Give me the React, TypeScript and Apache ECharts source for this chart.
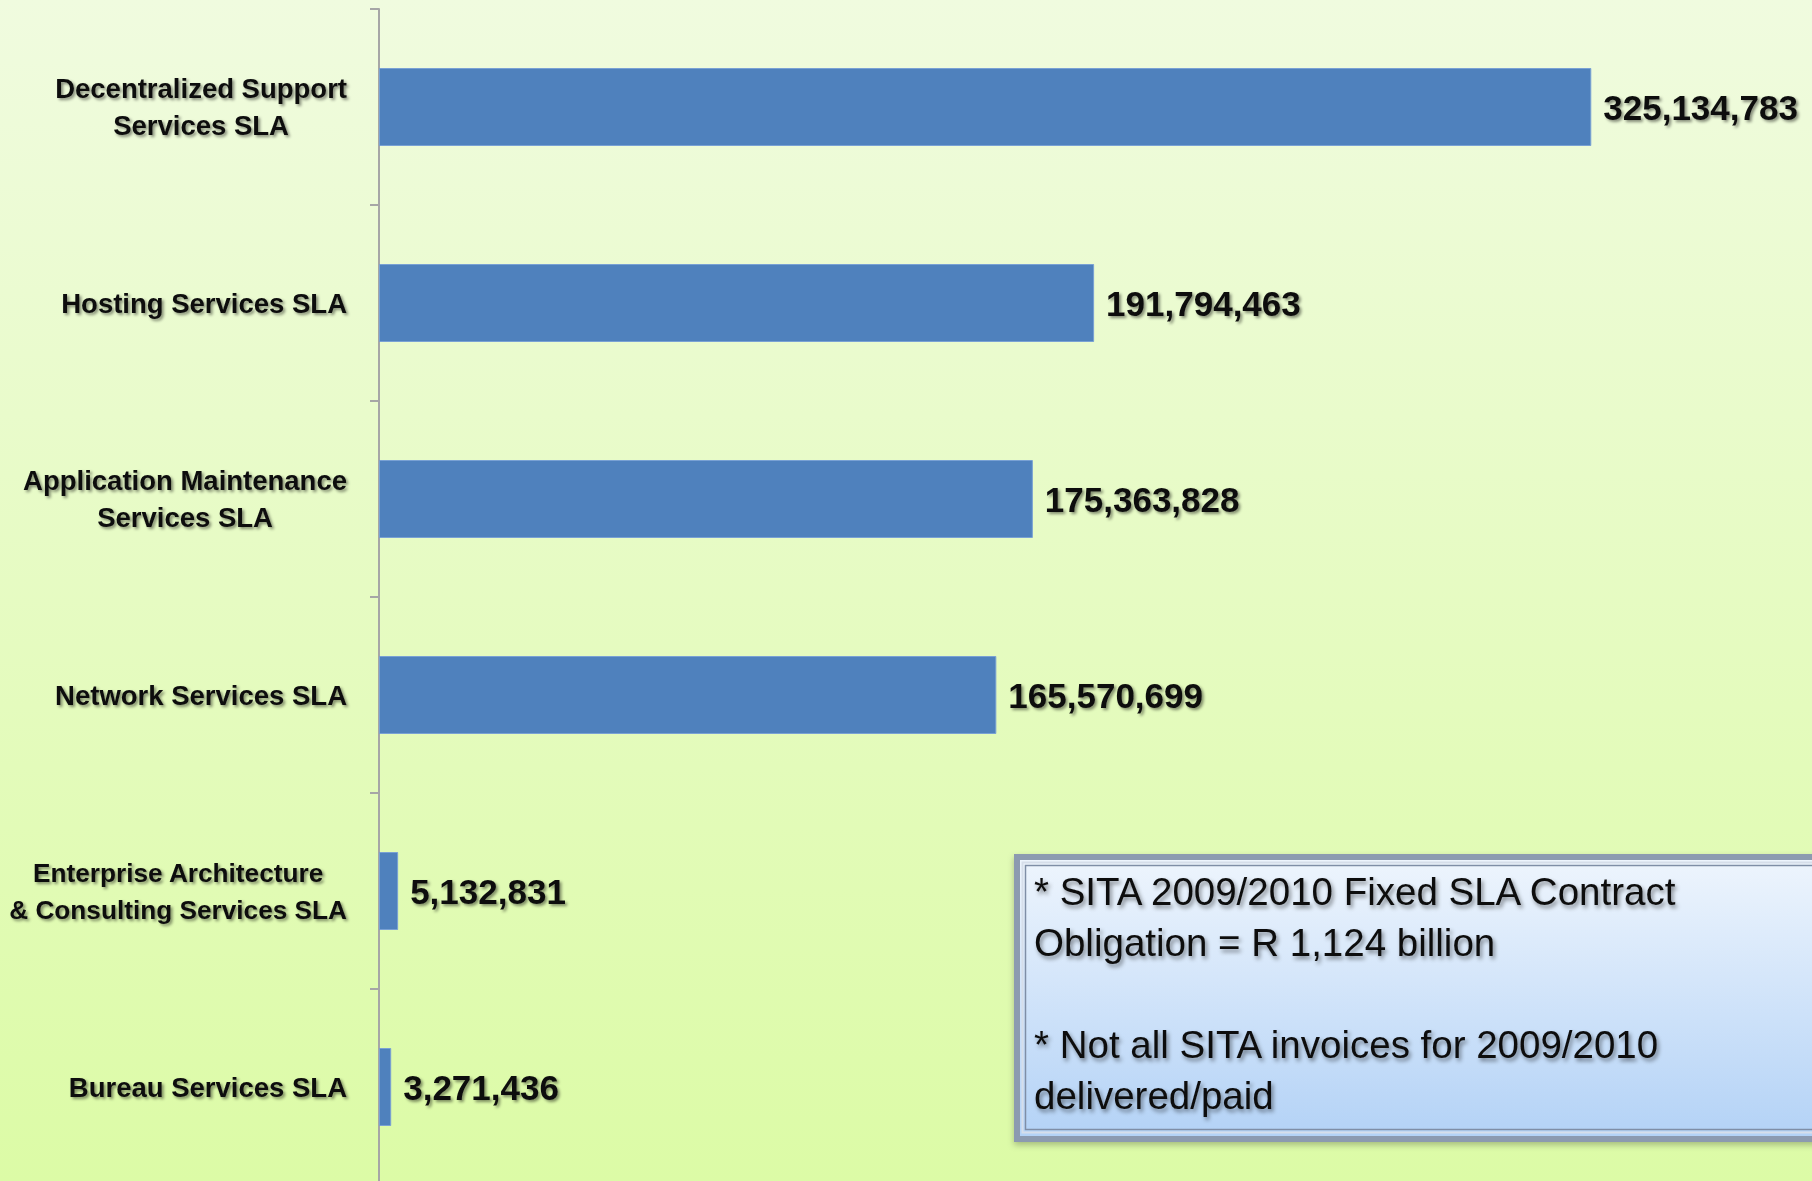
import React, { useEffect, useRef } from "react";
import * as echarts from "echarts";

const categories = [
  "Decentralized Support\nServices SLA",
  "Hosting Services SLA",
  "Application Maintenance\nServices SLA",
  "Network Services SLA",
  "Enterprise Architecture\n& Consulting Services SLA",
  "Bureau Services SLA",
];
const values = [325134783, 191794463, 175363828, 165570699, 5132831, 3271436];
const noteLines = [
  "* SITA 2009/2010 Fixed SLA Contract",
  "Obligation = R 1,124 billion",
  "",
  "* Not all SITA invoices for 2009/2010",
  "delivered/paid",
];

const LABEL_FONT = '"Liberation Sans", Arial, sans-serif';
const LABEL_SIZE = 27.5;
const LABEL_MAX_W = 338;

function measure(text: string, size: number): number {
  const c = document.createElement("canvas").getContext("2d");
  if (!c) return text.length * size * 0.55;
  c.font = `bold ${size}px ${LABEL_FONT}`;
  return c.measureText(text).width;
}

export default function App() {
  const ref = useRef<HTMLDivElement>(null);
  useEffect(() => {
    if (!ref.current) return;
    const chart = echarts.init(ref.current, undefined, { renderer: "svg" });
    const shadow = {
      textShadowColor: "rgba(0,0,0,0.45)",
      textShadowBlur: 3,
      textShadowOffsetX: 2,
      textShadowOffsetY: 2,
    };
    const rich: Record<string, any> = {};
    categories.forEach((cat, i) => {
      const raw = Math.max(...cat.split("\n").map((l) => measure(l, LABEL_SIZE)));
      const size = raw > LABEL_MAX_W ? (LABEL_SIZE * LABEL_MAX_W) / raw : LABEL_SIZE;
      const w = Math.max(...cat.split("\n").map((l) => measure(l, size))) + 2;
      rich["c" + i] = {
        width: w,
        align: "center",
        fontFamily: LABEL_FONT,
        fontWeight: "bold",
        fontSize: size,
        lineHeight: 37,
        color: "#111",
        ...shadow,
      };
    });
    chart.setOption({
      animation: false,
      backgroundColor: new echarts.graphic.LinearGradient(0, 0, 0, 1, [
        { offset: 0, color: "#f0fbdf" },
        { offset: 1, color: "#dcfba6" },
      ]),
      grid: {
        left: 379,
        top: 9,
        right: 128,
        bottom: -4,
        containLabel: false,
        outerBoundsMode: "none",
      },
      xAxis: {
        type: "value",
        min: 0,
        max: 350000000,
        show: false,
      },
      yAxis: {
        type: "category",
        inverse: true,
        data: categories,
        axisLine: { show: true, lineStyle: { color: "#a6a6a6", width: 2 } },
        axisTick: { show: true, length: 9, lineStyle: { color: "#a6a6a6", width: 2 } },
        splitLine: { show: false },
        axisLabel: {
          margin: 31,
          align: "right",
          fontFamily: LABEL_FONT,
          fontWeight: "bold",
          fontSize: LABEL_SIZE,
          lineHeight: 37,
          color: "#111",
          ...shadow,
          formatter: (v: string, i: number) =>
            v
              .split("\n")
              .map((l) => `{c${i}|${l}}`)
              .join("\n"),
          rich,
        },
      },
      series: [
        {
          type: "bar",
          data: values,
          barWidth: 78,
          itemStyle: { color: "#4f81bd", borderColor: "#79a1d4", borderWidth: 1 },
          label: {
            show: true,
            position: "right",
            distance: 12,
            fontFamily: LABEL_FONT,
            fontWeight: "bold",
            fontSize: 35,
            color: "#111",
            ...shadow,
            formatter: (p: any) => Number(p.value).toLocaleString("en-US"),
          },
        },
      ],
      graphic: [
        {
          type: "rect",
          left: 1014,
          top: 854,
          shape: { width: 840, height: 282 },
          style: {
            fill: new echarts.graphic.LinearGradient(0, 0, 0, 1, [
              { offset: 0, color: "#eef5fd" },
              { offset: 1, color: "#b3d2f6" },
            ]),
            stroke: "#8c9ab0",
            lineWidth: 6,
            shadowColor: "rgba(0,0,0,0.25)",
            shadowBlur: 6,
            shadowOffsetY: 3,
          },
          z: 10,
        },
        {
          type: "rect",
          left: 1020,
          top: 860,
          shape: { width: 830, height: 270 },
          style: { fill: "none", stroke: "#d6deea", lineWidth: 2 },
          z: 11,
        },
        {
          type: "rect",
          left: 1023,
          top: 863,
          shape: { width: 830, height: 264 },
          style: { fill: "none", stroke: "#7f8ea6", lineWidth: 1.5 },
          z: 11,
        },
        {
          type: "text",
          left: 1034,
          top: 866,
          style: {
            text: noteLines.join("\n"),
            fontFamily: LABEL_FONT,
            fontSize: 38.5,
            lineHeight: 51,
            fill: "#111",
            textShadowColor: "rgba(0,0,0,0.45)",
            textShadowBlur: 4,
            textShadowOffsetX: 2,
            textShadowOffsetY: 3,
          },
          z: 12,
        },
      ],
    });
    return () => chart.dispose();
  }, []);
  return (
    <div
      ref={ref}
      style={{ position: "fixed", left: 0, top: 0, width: 1812, height: 1181 }}
    />
  );
}
